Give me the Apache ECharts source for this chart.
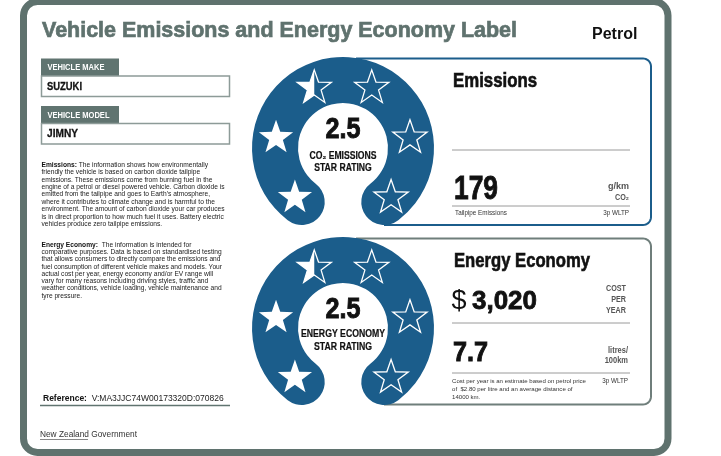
<!DOCTYPE html>
<html>
<head>
<meta charset="utf-8">
<script src="https://cdn.jsdelivr.net/npm/echarts@6/dist/echarts.min.js"></script>
<style>html,body{margin:0;padding:0;background:#fff}#c{width:721px;height:456px}</style>
</head>
<body>
<div id="c"></div>
<script>
// ---- data ----
const labelTitle = 'Vehicle Emissions and Energy Economy Label';
const fuelType = 'Petrol';
const vehicleMake = 'SUZUKI';
const vehicleModel = 'JIMNY';
const starRatings = [2.5, 2.5];
const ratingNames = [['CO\u2082 EMISSIONS', 'STAR RATING'], ['ENERGY ECONOMY', 'STAR RATING']];
const emissionsGkm = 179;
const costPerYear = 3020;
const litresPer100km = 7.7;
const petrolPrice = 2.80;
const annualDistanceKm = 14000;
const testCycle = '3p WLTP';
const referenceCode = 'V:MA3JJC74W00173320D:070826';
const emissionsInfoLines = [
  '{b|Emissions:} The information shows how environmentally',
  'friendly the vehicle is based on carbon dioxide tailpipe',
  'emissions. These emissions come from burning fuel in the',
  'engine of a petrol or diesel powered vehicle. Carbon dioxide is',
  'emitted from the tailpipe and goes to Earth\u2019s atmosphere,',
  'where it contributes to climate change and is harmful to the',
  'environment. The amount of carbon dioxide your car produces',
  'is in direct proportion to how much fuel it uses. Battery electric',
  'vehicles produce zero tailpipe emissions.'
];
const economyInfoLines = [
  '{b|Energy Economy:}  The information is intended for',
  'comparative purposes. Data is based on standardised testing',
  'that allows consumers to directly compare the emissions and',
  'fuel consumption of different vehicle makes and models. Your',
  'actual cost per year, energy economy and/or EV range will',
  'vary for many reasons including driving styles, traffic and',
  'weather conditions, vehicle loading, vehicle maintenance and',
  'tyre pressure.'
];

// ---- styles / layout ----
const SANS = '"Liberation Sans", Arial, sans-serif';
const FRAME = '#5f726e';
const BLUE = '#1b5d8b';
const GREYBOX = '#6f7e7b';
const RULE = '#9a9a9a';
const starAngles = [225, 170, 115, 65, 10, 315];
const centers = [[343, 148], [343, 328]];
const STAR_R = 18, STAR_r = 7.2;

const mctx = document.createElement('canvas').getContext('2d');
function measure(text, size, weight, family) {
  mctx.font = (weight || 'normal') + ' ' + size + 'px ' + (family || SANS);
  return mctx.measureText(text).width;
}

function txt(x, y, text, o) {
  o = o || {};
  const st = {
    text: text,
    fontSize: o.size || 10,
    fontFamily: o.family || SANS,
    fontWeight: o.weight || 'normal',
    fill: o.color || '#111',
    align: o.align || 'left',
    verticalAlign: o.va || 'middle'
  };
  if (o.lineHeight) st.lineHeight = o.lineHeight;
  if (o.rich) st.rich = o.rich;
  if (o.heavy) { st.stroke = st.fill; st.lineWidth = o.heavy; }
  let sx = 1;
  if (o.w) sx = o.w / measure(o.measureText || text, st.fontSize, st.fontWeight, st.fontFamily);
  return { type: 'text', x: x, y: y, z: o.z || 10, style: st, scaleX: sx, silent: true };
}
function line(x1, y1, x2, y2, color, w) {
  return { type: 'line', shape: { x1, y1, x2, y2 }, style: { stroke: color, lineWidth: w || 1 }, silent: true };
}
function openBox(xl, yt, xr, yb, r, xEnd, color) {
  const pts = [[xl, yt], [xr - r, yt]];
  for (let a = -80; a <= 0; a += 10) {
    const t = a * Math.PI / 180; pts.push([xr - r + r * Math.cos(t), yt + r + r * Math.sin(t)]);
  }
  pts.push([xr, yb - r]);
  for (let a = 10; a <= 90; a += 10) {
    const t = a * Math.PI / 180; pts.push([xr - r + r * Math.cos(t), yb - r + r * Math.sin(t)]);
  }
  pts.push([xEnd, yb]);
  return { type: 'polyline', shape: { points: pts }, style: { fill: 'none', stroke: color, lineWidth: 2 }, silent: true };
}

const graphics = [
  { type: 'rect', z: 0, shape: { x: 23.5, y: 1.5, width: 644.5, height: 451, r: 14 }, style: { fill: '#fff', stroke: FRAME, lineWidth: 7 }, silent: true },
  txt(42, 31, labelTitle, { size: 22.5, weight: 'bold', color: FRAME, w: 475, heavy: 0.7 }),
  txt(592, 35, fuelType, { size: 16, weight: 'bold', color: '#111' }),
  // make / model
  { type: 'rect', shape: { x: 41, y: 58.5, width: 78, height: 17.5 }, style: { fill: '#607470' }, silent: true },
  txt(47.5, 67.5, 'VEHICLE MAKE', { size: 9.8, weight: 'bold', color: '#fff', w: 57 }),
  { type: 'rect', shape: { x: 41.5, y: 76, width: 188, height: 20.5 }, style: { fill: '#fff', stroke: '#8d9b98', lineWidth: 1.5 }, silent: true },
  txt(47, 86.5, vehicleMake, { size: 11, weight: 'bold', w: 35, heavy: 0.3 }),
  { type: 'rect', shape: { x: 41, y: 106, width: 78, height: 17.5 }, style: { fill: '#607470' }, silent: true },
  txt(47.5, 115, 'VEHICLE MODEL', { size: 9.8, weight: 'bold', color: '#fff', w: 62 }),
  { type: 'rect', shape: { x: 41.5, y: 123.5, width: 188, height: 20.5 }, style: { fill: '#fff', stroke: '#8d9b98', lineWidth: 1.5 }, silent: true },
  txt(47, 134, vehicleModel, { size: 11, weight: 'bold', w: 31, heavy: 0.3 }),
  // info paragraphs
  txt(41.5, 161.3, emissionsInfoLines.join('\n'), { size: 6.65, va: 'top', lineHeight: 7.4, color: '#222', rich: { b: { fontWeight: 'bold', fontSize: 6.65, lineHeight: 7.4, fill: '#111' } } }),
  txt(41.5, 241.4, economyInfoLines.join('\n'), { size: 6.65, va: 'top', lineHeight: 7.25, color: '#222', rich: { b: { fontWeight: 'bold', fontSize: 6.65, lineHeight: 7.25, fill: '#111' } } }),
  // reference
  txt(43, 399, '{b|Reference:}  ' + referenceCode, { size: 8.5, color: '#222', rich: { b: { fontWeight: 'bold', fontSize: 8.5, fill: '#111' } } }),
  line(40, 405.5, 230, 405.5, '#607470', 1.5),
  txt(40, 434, 'New Zealand Government', { size: 9.5, color: '#333', w: 97 }),
  line(40, 439.5, 88, 439.5, '#555', 0.7),
  // emissions panel
  openBox(356, 58.5, 651, 225, 8, 384, BLUE),
  txt(453, 82, 'Emissions', { size: 19.5, weight: 'bold', w: 84, heavy: 0.6 }),
  line(452, 150, 630, 150, RULE, 1),
  txt(454, 190, String(emissionsGkm), { size: 33, weight: 'bold', w: 44, heavy: 0.9 }),
  txt(629, 187, 'g/km', { size: 9, weight: 'bold', color: '#555', align: 'right', w: 21 }),
  txt(629, 197.5, 'CO\u2082', { size: 9, weight: 'bold', color: '#555', align: 'right', w: 14 }),
  line(452, 206, 630, 206, RULE, 1),
  txt(455, 213, 'Tailpipe Emissions', { size: 6.3, color: '#333' }),
  txt(629, 213, testCycle, { size: 6.3, color: '#333', align: 'right' }),
  // energy panel
  openBox(356, 238.5, 651, 404.5, 8, 384, GREYBOX),
  txt(454, 262, 'Energy Economy', { size: 19.5, weight: 'bold', w: 136, heavy: 0.6 }),
  txt(451.5, 301.5, '$', { size: 27, w: 15 }),
  txt(472, 301.5, costPerYear.toLocaleString('en-US'), { size: 26, weight: 'bold', w: 65, heavy: 0.8 }),
  txt(626, 299.5, 'COST\nPER\nYEAR', { size: 9.3, weight: 'bold', color: '#555', align: 'right', lineHeight: 11, w: 20, measureText: 'COST' }),
  line(452, 323, 630, 323, RULE, 1),
  txt(453, 353, String(litresPer100km), { size: 28, weight: 'bold', w: 35, heavy: 0.9 }),
  txt(628, 356, 'litres/\n100km', { size: 9, weight: 'bold', color: '#555', align: 'right', lineHeight: 10, w: 20, measureText: 'litres/' }),
  line(452, 373, 630, 373, RULE, 1),
  txt(452, 377, 'Cost per year is an estimate based on petrol price\nof  $' + petrolPrice.toFixed(2) + ' per litre and an average distance of\n' + annualDistanceKm + ' km.', { size: 6, va: 'top', lineHeight: 8, color: '#333', w: 134, measureText: 'Cost per year is an estimate based on petrol price' }),
  txt(628, 381, testCycle, { size: 6.3, color: '#333', align: 'right' })
];

// centre texts of the two rating dials
starRatings.forEach((rating, gi) => {
  const c = centers[gi];
  graphics.push(txt(c[0], c[1] - 18, rating.toFixed(1), { size: 29, weight: 'bold', align: 'center', w: 35, z: 100, heavy: 0.9 }));
  const w1 = gi === 0 ? 67 : 84;
  const s = w1 / measure(ratingNames[gi][0], 10, 'bold', SANS);
  graphics.push(txt(c[0], c[1] + (gi === 0 ? 8 : 6), ratingNames[gi][0], { size: 10, weight: 'bold', align: 'center', w: w1, z: 100, heavy: 0.2 }));
  graphics.push(txt(c[0], c[1] + (gi === 0 ? 20.5 : 19), ratingNames[gi][1], { size: 10, weight: 'bold', align: 'center', w: s * measure(ratingNames[gi][1], 10, 'bold', SANS), z: 100, heavy: 0.2 }));
});

function starPts(cx, cy, R, r) {
  const pts = [];
  for (let k = 0; k < 10; k++) {
    const a = (-90 + 36 * k) * Math.PI / 180;
    const rad = k % 2 === 0 ? R : r;
    pts.push([cx + rad * Math.cos(a), cy + rad * Math.sin(a)]);
  }
  return pts;
}

function starData(rating) {
  return starAngles.map((ang, i) => [68, ang, Math.max(0, Math.min(1, rating - i))]);
}

const series = [];
const polar = [], angleAxis = [], radiusAxis = [];
starRatings.forEach((rating, gi) => {
  polar.push({ center: centers[gi], radius: 91 });
  angleAxis.push({ polarIndex: gi, type: 'value', min: 0, max: 360, startAngle: 0, clockwise: false, show: false });
  radiusAxis.push({ polarIndex: gi, type: 'value', min: 0, max: 91, show: false });
  series.push({
    type: 'gauge', z: 2, center: centers[gi], radius: 91,
    startAngle: 232.6, endAngle: -52.6, min: 0, max: 6,
    axisLine: { roundCap: true, lineStyle: { width: 46, color: [[1, BLUE]] } },
    progress: { show: false }, pointer: { show: false }, anchor: { show: false },
    axisTick: { show: false }, splitLine: { show: false }, axisLabel: { show: false },
    detail: { show: false }, title: { show: false },
    data: [{ value: rating, name: ratingNames[gi].join(' ') }],
    silent: true, animation: false
  });
  series.push({
    type: 'custom', coordinateSystem: 'polar', polarIndex: gi, z: 5, silent: true, animation: false,
    encode: { radius: 0, angle: 1 },
    data: starData(rating),
    renderItem: function (params, api) {
      const p = api.coord([api.value(0), api.value(1)]);
      const fill = api.value(2);
      const cy = p[1] + 1.5;
      const pts = starPts(p[0], cy, STAR_R, STAR_r);
      const children = [];
      if (fill >= 1) {
        children.push({ type: 'polygon', shape: { points: pts }, style: { fill: '#fff' } });
      } else {
        children.push({ type: 'polygon', shape: { points: pts }, style: { fill: 'none', stroke: '#fff', lineWidth: 1.3, lineJoin: 'miter' } });
        if (fill > 0) {
          const half = [pts[0], pts[9], pts[8], pts[7], pts[6], pts[5]];
          children.push({ type: 'polygon', shape: { points: half }, style: { fill: '#fff' } });
        }
      }
      return { type: 'group', children: children };
    }
  });
});

const chart = echarts.init(document.getElementById('c'), null, { renderer: 'canvas' });
chart.setOption({
  animation: false,
  backgroundColor: '#fff',
  polar: polar, angleAxis: angleAxis, radiusAxis: radiusAxis,
  series: series,
  graphic: { elements: graphics }
});
</script>
</body>
</html>
